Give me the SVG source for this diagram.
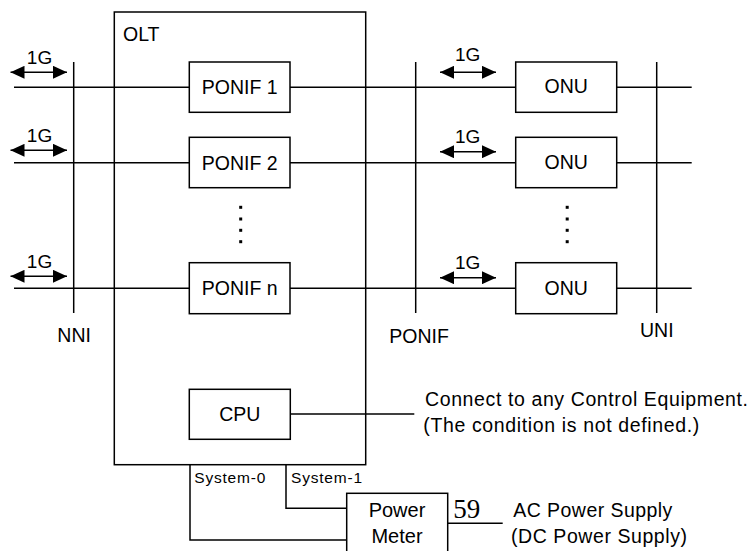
<svg xmlns="http://www.w3.org/2000/svg" width="749" height="551" viewBox="0 0 749 551">
<style>
.box{fill:#fff;stroke:#000;stroke-width:1.5}
.ln{fill:none;stroke:#000;stroke-width:1.5}
.t{font-family:"Liberation Sans",Arial,sans-serif;font-size:19.5px;fill:#000}
.c{text-anchor:middle}
.g{font-family:"Liberation Sans",Arial,sans-serif;font-size:19px;fill:#000;text-anchor:middle}
.s{font-family:"Liberation Sans",Arial,sans-serif;font-size:15.5px;fill:#000}
.dot{fill:#000}
</style>
<defs>
<marker id="ah" viewBox="0 0 14 13" refX="14" refY="6.5" markerWidth="14" markerHeight="13" markerUnits="userSpaceOnUse" orient="auto-start-reverse">
<path d="M0,0 L14,6.5 L0,13 Z" fill="#000"/>
</marker>
</defs>
<g id="connectors">
<line class="ln" x1="73.7" y1="62" x2="73.7" y2="313"/>
<line class="ln" x1="415.7" y1="62" x2="415.7" y2="313"/>
<line class="ln" x1="656.7" y1="62" x2="656.7" y2="313"/>
<line class="ln" x1="14" y1="87.3" x2="515.7" y2="87.3"/>
<line class="ln" x1="14" y1="162.7" x2="515.7" y2="162.7"/>
<line class="ln" x1="14" y1="288.3" x2="515.7" y2="288.3"/>
<line class="ln" x1="616.7" y1="87.3" x2="691.7" y2="87.3"/>
<line class="ln" x1="616.7" y1="162.7" x2="691.7" y2="162.7"/>
<line class="ln" x1="616.7" y1="288.3" x2="691.7" y2="288.3"/>
<line class="ln" x1="10.5" y1="72.3" x2="67" y2="72.3" marker-start="url(#ah)" marker-end="url(#ah)"/>
<line class="ln" x1="10.5" y1="150.3" x2="67" y2="150.3" marker-start="url(#ah)" marker-end="url(#ah)"/>
<line class="ln" x1="10.5" y1="276.3" x2="67" y2="276.3" marker-start="url(#ah)" marker-end="url(#ah)"/>
<line class="ln" x1="440" y1="72.3" x2="496" y2="72.3" marker-start="url(#ah)" marker-end="url(#ah)"/>
<line class="ln" x1="440" y1="151.7" x2="496" y2="151.7" marker-start="url(#ah)" marker-end="url(#ah)"/>
<line class="ln" x1="440" y1="277.7" x2="496" y2="277.7" marker-start="url(#ah)" marker-end="url(#ah)"/>
<line class="ln" x1="290.3" y1="414" x2="414.3" y2="414"/>
<polyline class="ln" points="190,465 190,540 346.7,540"/>
<polyline class="ln" points="286,465 286,508.3 346.7,508.3"/>
<line class="ln" x1="447.7" y1="523.3" x2="502.7" y2="523.3"/>
</g>
<g id="labels">
<text class="g" x="39.5" y="64">1G</text>
<text class="g" x="39.5" y="142">1G</text>
<text class="g" x="39.5" y="268">1G</text>
<text class="g" x="467.7" y="61">1G</text>
<text class="g" x="467.7" y="143">1G</text>
<text class="g" x="467.7" y="269">1G</text>
<text class="t" x="57.3" y="341.7">NNI</text>
<text class="t" x="389.3" y="342.7">PONIF</text>
<text class="t" x="640" y="337.3">UNI</text>
<text class="t" x="425" y="405.7" textLength="323" lengthAdjust="spacing">Connect to any Control Equipment.</text>
<text class="t" x="423.3" y="431.7" textLength="276" lengthAdjust="spacing">(The condition is not defined.)</text>
<text class="s" x="194.3" y="482.7" textLength="71" lengthAdjust="spacing">System-0</text>
<text class="s" x="291" y="482.7" textLength="71" lengthAdjust="spacing">System-1</text>
<text x="453.3" y="518.3" style="font-family:'Liberation Serif','Times New Roman',serif;font-size:27px">59</text>
<text class="t" x="513.3" y="516.7" textLength="159" lengthAdjust="spacing">AC Power Supply</text>
<text class="t" x="511" y="542.7" textLength="176" lengthAdjust="spacing">(DC Power Supply)</text>
</g>
<g id="olt">
<rect class="box" x="114.3" y="12" width="251.4" height="452.7" style="fill:none"/>
<text class="t" x="123" y="40.7">OLT</text>
</g>
<g id="ponif1">
<rect class="box" x="189.3" y="62" width="100.7" height="50.3"/>
<text class="t c" x="239.7" y="94">PONIF 1</text>
</g>
<g id="ponif2">
<rect class="box" x="189.3" y="137.3" width="100.7" height="50.4"/>
<text class="t c" x="239.7" y="169.5">PONIF 2</text>
</g>
<g id="dots-olt">
<rect class="dot" x="239.2" y="205.8" width="3" height="3"/>
<rect class="dot" x="239.2" y="217.5" width="3" height="3"/>
<rect class="dot" x="239.2" y="228.8" width="3" height="3"/>
<rect class="dot" x="239.2" y="240.2" width="3" height="3"/>
</g>
<g id="ponifn">
<rect class="box" x="189.3" y="262.7" width="100.7" height="51"/>
<text class="t c" x="239.7" y="295">PONIF n</text>
</g>
<g id="onu1">
<rect class="box" x="515.7" y="62" width="101" height="50.3"/>
<text class="t c" x="566.2" y="93.3">ONU</text>
</g>
<g id="onu2">
<rect class="box" x="515.7" y="137.3" width="101" height="50.4"/>
<text class="t c" x="566.2" y="169">ONU</text>
</g>
<g id="dots-onu">
<rect class="dot" x="565.7" y="205.8" width="3" height="3"/>
<rect class="dot" x="565.7" y="217.5" width="3" height="3"/>
<rect class="dot" x="565.7" y="228.8" width="3" height="3"/>
<rect class="dot" x="565.7" y="240.2" width="3" height="3"/>
</g>
<g id="onun">
<rect class="box" x="515.7" y="262.7" width="101" height="51"/>
<text class="t c" x="566.2" y="294.5">ONU</text>
</g>
<g id="cpu">
<rect class="box" x="189.3" y="389.3" width="101" height="50"/>
<text class="t c" x="239.8" y="421">CPU</text>
</g>
<g id="powermeter">
<rect class="box" x="346.7" y="493.3" width="101" height="70"/>
<text class="t c" x="397" y="517.3" style="font-size:20px">Power</text>
<text class="t c" x="397" y="542.7" style="font-size:20px">Meter</text>
</g>
</svg>
